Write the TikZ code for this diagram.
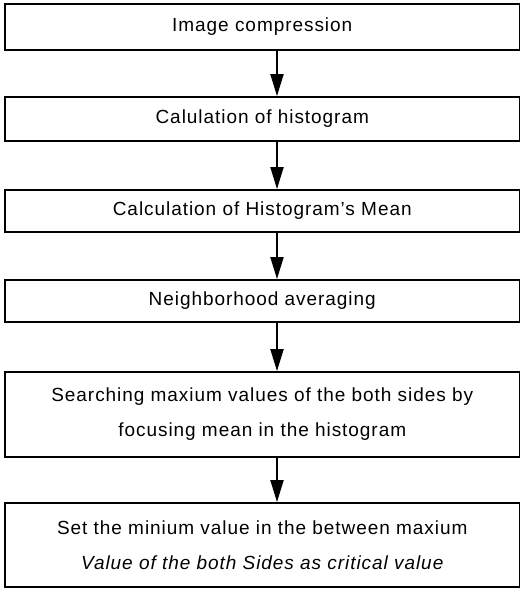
\documentclass[tikz,border=0pt]{standalone}
\usepackage{fontspec}
\setmainfont[LetterSpace=5]{Liberation Sans}
\usetikzlibrary{arrows.meta}
\tikzset{
  stepbox/.style={draw=black, line width=1.8pt, minimum width=514.5pt, inner sep=0pt,
    align=center, font=\fontsize{19}{35}\selectfont},
  flowarrow/.style={line width=2pt, -{Triangle[length=22pt,width=13pt]}}
}
\begin{document}
\begin{tikzpicture}[x=1pt,y=1pt]
\useasboundingbox (0,0) rectangle (521,-590);
\node[stepbox, minimum height=46pt] (b1) at (262.25,-27) {Image compression};
\node[stepbox, minimum height=44pt] (b2) at (262.25,-119) {Calulation of histogram};
\node[stepbox, minimum height=42pt] (b3) at (262.25,-211) {Calculation of Histogram's Mean};
\node[stepbox, minimum height=42pt] (b4) at (262.25,-301) {Neighborhood averaging};
\node[stepbox, minimum height=85pt] (b5) at (262.25,-414.5) {Searching maxium values of the both sides by\\focusing mean in the histogram};
\node[stepbox, minimum height=84pt] (b6) at (262.25,-545) {Set the minium value in the between maxium\\\itshape Value of the both Sides as critical value};
\coordinate (ax) at (277,0);
\draw[flowarrow] (b1.south -| ax) -- (b2.north -| ax);
\draw[flowarrow] (b2.south -| ax) -- (b3.north -| ax);
\draw[flowarrow] (b3.south -| ax) -- (b4.north -| ax);
\draw[flowarrow] (b4.south -| ax) -- (b5.north -| ax);
\draw[flowarrow] (b5.south -| ax) -- (b6.north -| ax);
\end{tikzpicture}
\end{document}
